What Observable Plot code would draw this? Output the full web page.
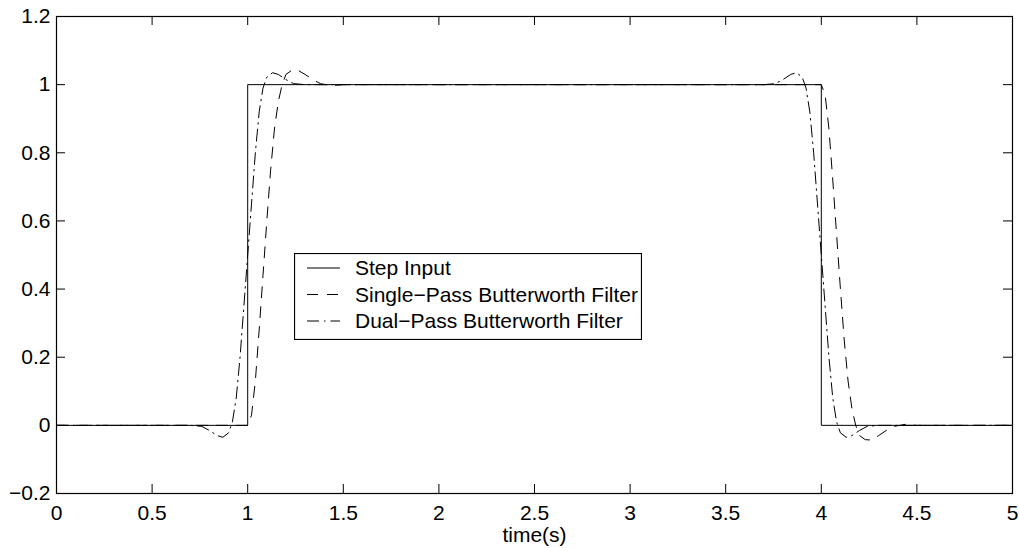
<!DOCTYPE html>
<html>
<head>
<meta charset="utf-8">
<script src="https://cdn.jsdelivr.net/npm/d3@7"></script>
<script src="https://cdn.jsdelivr.net/npm/@observablehq/plot@0.6"></script>
<style>
  html, body { margin: 0; padding: 0; background: #fff; }
  #wrap { position: relative; width: 1019px; height: 548px; font-family: "Liberation Sans", Arial, Helvetica, sans-serif; }
  #legend { position: absolute; left: 294px; top: 253px; }
</style>
</head>
<body>
<div id="wrap"></div>
<script>
// ---- data ----
const xTicks = [0, 0.5, 1, 1.5, 2, 2.5, 3, 3.5, 4, 4.5, 5];
const xTickLabels = ["0", "0.5", "1", "1.5", "2", "2.5", "3", "3.5", "4", "4.5", "5"];
const yTicks = [-0.2, 0, 0.2, 0.4, 0.6, 0.8, 1, 1.2];
const yTickLabels = ["\u22120.2", "0", "0.2", "0.4", "0.6", "0.8", "1", "1.2"];
const xAxisLabel = "time(s)";

const seriesNames = ["Step Input", "Single\u2212Pass Butterworth Filter", "Dual\u2212Pass Butterworth Filter"];

const stepT = [0, 1, 1, 4, 4, 5];
const stepV = [0, 0, 1, 1, 0, 0];

const singleT = [0,
  1.00, 1.02, 1.04, 1.06, 1.08, 1.10, 1.12, 1.14, 1.16, 1.18, 1.20, 1.23, 1.26, 1.30, 1.34, 1.38, 1.44, 1.50,
  4.00, 4.02, 4.04, 4.06, 4.08, 4.10, 4.12, 4.14, 4.16, 4.18, 4.20, 4.23, 4.26, 4.30, 4.34, 4.38, 4.44, 4.50,
  5];
const singleV = [0,
  0, 0.03, 0.13, 0.28, 0.44, 0.60, 0.75, 0.87, 0.95, 1.0, 1.03, 1.042, 1.043, 1.03, 1.015, 1.003, 0.997, 1.0,
  1.0, 0.97, 0.87, 0.72, 0.56, 0.40, 0.25, 0.13, 0.05, 0.0, -0.03, -0.042, -0.043, -0.03, -0.015, -0.003, 0.003, 0.0,
  0];

const dualT = [0,
  0.70, 0.76, 0.80, 0.84, 0.87, 0.90, 0.92, 0.94, 0.96, 0.98, 1.00, 1.02, 1.04, 1.06, 1.08, 1.10, 1.13, 1.16, 1.20, 1.24, 1.30,
  3.70, 3.76, 3.80, 3.84, 3.87, 3.90, 3.92, 3.94, 3.96, 3.98, 4.00, 4.02, 4.04, 4.06, 4.08, 4.10, 4.13, 4.16, 4.20, 4.24, 4.30,
  5];
const dualV = [0,
  0, -0.003, -0.015, -0.03, -0.035, -0.022, 0.01, 0.08, 0.2, 0.35, 0.5, 0.65, 0.8, 0.92, 0.99, 1.022, 1.035, 1.03, 1.015, 1.003, 1.0,
  1.0, 1.003, 1.015, 1.03, 1.035, 1.022, 0.99, 0.92, 0.8, 0.65, 0.5, 0.35, 0.2, 0.08, 0.01, -0.022, -0.035, -0.03, -0.015, -0.003, 0.0,
  0];

// ---- build ----
const toRows = (T, V) => T.map((t, i) => ({t, v: V[i]}));
const stepData = toRows(stepT, stepV);
const singleData = toRows(singleT, singleV);
const dualData = toRows(dualT, dualV);

const W = 1019, H = 548;
const mL = 56, mR = 7, mT = 16, mB = 55;
const innerW = W - mL - mR, innerH = H - mT - mB;
const tickLen = 9;
const fs = 21;
const font = '"Liberation Sans", Arial, Helvetica, sans-serif';
const dashStyle = "11,9";
const dashDotStyle = "12,5,1.5,5";

const chart = Plot.plot({
  width: W, height: H,
  marginLeft: mL, marginRight: mR, marginTop: mT, marginBottom: mB,
  style: {fontFamily: font, fontSize: fs + "px", color: "#000", background: "#fff"},
  x: {domain: [0, 5], label: null},
  y: {domain: [-0.2, 1.2], label: null},
  marks: [
    Plot.line(stepData, {x: "t", y: "v", stroke: "#000", strokeWidth: 1}),
    Plot.line(singleData, {x: "t", y: "v", stroke: "#000", strokeWidth: 1, strokeDasharray: dashStyle}),
    Plot.line(dualData, {x: "t", y: "v", stroke: "#000", strokeWidth: 1, strokeDasharray: dashDotStyle}),
    // inward ticks on all four sides
    Plot.tickX(xTicks, {x: d => d, insetTop: innerH - tickLen, stroke: "#000"}),
    Plot.tickX(xTicks, {x: d => d, insetBottom: innerH - tickLen, stroke: "#000"}),
    Plot.tickY(yTicks, {y: d => d, insetRight: innerW - tickLen, stroke: "#000"}),
    Plot.tickY(yTicks, {y: d => d, insetLeft: innerW - tickLen, stroke: "#000"}),
    Plot.frame({stroke: "#000", strokeWidth: 1.2}),
    Plot.axisX(xTicks, {tickSize: 0, tickPadding: 12, fontSize: fs, tickFormat: d => xTickLabels[xTicks.indexOf(d)], label: null}),
    Plot.axisY(yTicks, {tickSize: 0, tickPadding: 6, fontSize: fs, tickFormat: d => yTickLabels[yTicks.indexOf(d)], label: null}),
    Plot.text([xAxisLabel], {frameAnchor: "bottom", lineAnchor: "middle", dy: 42, text: d => d, fontSize: fs, fill: "#000"})
  ]
});

const wrap = document.getElementById("wrap");
wrap.appendChild(chart);

// legend box inside the plot area
const lg = d3.create("svg")
  .attr("id", "legend")
  .attr("width", 348).attr("height", 87)
  .style("font-family", font);
lg.append("rect").attr("x", 0.5).attr("y", 0.5).attr("width", 347).attr("height", 86)
  .attr("fill", "#fff").attr("stroke", "#000").attr("stroke-width", 1.2);
const dashes = [null, dashStyle, dashDotStyle];
const rowY = [15, 41.5, 68];
seriesNames.forEach((name, i) => {
  lg.append("line").attr("x1", 13).attr("x2", 46).attr("y1", rowY[i]).attr("y2", rowY[i])
    .attr("stroke", "#000").attr("stroke-width", 1)
    .attr("stroke-dasharray", dashes[i]);
  lg.append("text").attr("x", 61).attr("y", rowY[i] + 7).attr("font-size", fs).attr("fill", "#000").text(name);
});
wrap.appendChild(lg.node());
</script>
</body>
</html>
